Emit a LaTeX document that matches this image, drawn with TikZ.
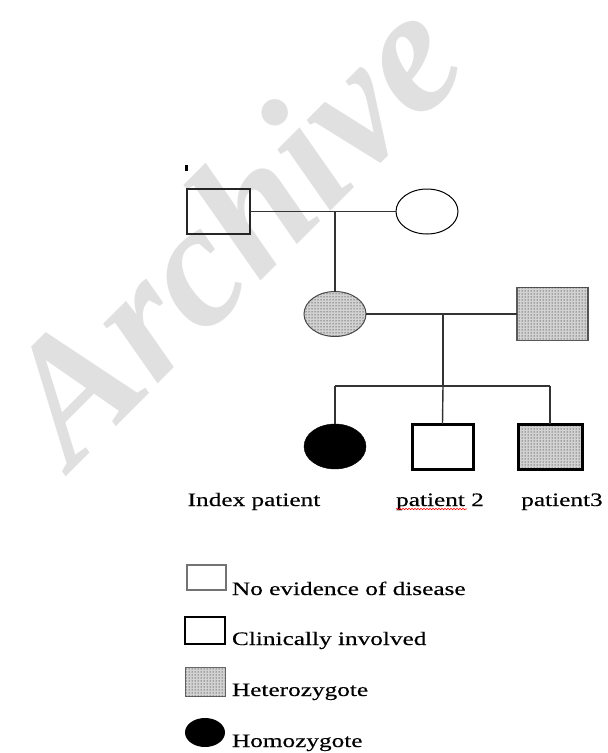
\documentclass[tikz,border=0pt]{standalone}
\usepackage{fontspec}
\setmainfont{Liberation Serif}
\newfontfamily\labelfont[FakeStretch=1.33,FakeBold=0.4]{Liberation Serif}
\usepackage{tikz}
\usetikzlibrary{shapes.geometric,patterns,decorations.pathmorphing}
\tikzset{
  every node/.style={outer sep=0pt,inner sep=0pt},
  conn/.style={draw=black!80,line width=1.4pt}
}
\tikzset{male/.style={
    draw,rectangle,
    minimum width=#1,
    minimum height=45pt
  },
  male/.default=63pt}
\tikzset{female/.style={
    draw,ellipse,
    minimum width=62pt,
    minimum height=45pt
  }}
\tikzset{hetero/.style={fill=gray!35,postaction={pattern=dots,pattern color=black}}}
\tikzset{caption/.style={font=\labelfont\fontsize{19}{22}\selectfont,anchor=base}}
\tikzset{keytext/.style={caption,anchor=base west}}

\begin{document}
\begin{tikzpicture}[x=1pt,y=-1pt]
  \useasboundingbox (0,0) rectangle (608,753);

  % watermark
  \node (mark) [anchor=base west,rotate=45,text=black!12,
    font=\fontsize{176}{176}\selectfont\bfseries\itshape] at (72,470) {Archive};

  \fill (185,165) rectangle (188,171);

  % first generation
  \node (Father) [male,line width=2.5pt,draw=black!85] at (218.5,211.5) {};
  \node (Mother) [female,line width=1pt] at (427,211.5) {};
  % second generation
  \node (Daughter) [female,line width=1pt,draw=black!70,hetero] at (335,314) {};
  \node (Husband)  [male=71pt,minimum height=53pt,line width=1.5pt,draw=black!65,hetero] at (552.5,314) {};
  % third generation
  \node (Index) [female,fill=black,draw=black] at (335,446.5) {};
  \node (Pat2)  [male=61pt,line width=3pt] at (442.5,446.5) {};
  \node (Pat3)  [male=64pt,line width=3pt,hetero] at (550,446.5) {};

  \coordinate (M1)  at (Daughter.north |- Father.east);
  \coordinate (M2)  at (443,314);
  \coordinate (Sib) at (443,386);

  \draw [conn] (Father.east) -- (Mother.west);
  \draw [conn] (M1) -- (Daughter.north);
  \draw [conn] (Daughter.east) -- (Husband.west);
  \draw [conn] (M2) -- (Sib);
  \draw [conn] (Index.north |- Sib) -- (Pat3.north |- Sib);
  \draw [conn] (Index.north |- Sib) -- (Index.north);
  \draw [conn] (Sib) -- (Pat2.north);
  \draw [conn] (Pat3.north |- Sib) -- (Pat3.north);

  \node (IndexLab) [caption] at (254,506) {Index patient};
  \node (Pat2Lab)  [caption] at (440,506) {patient 2};
  \node (Pat3Lab)  [caption] at (562,506) {patient3};
  \draw [red,line width=0.6pt,decorate,decoration={snake,segment length=3pt,amplitude=0.7pt}]
    ([yshift=-3pt] Pat2Lab.base west) -- ([xshift=-17pt,yshift=-3pt] Pat2Lab.base east);

  % key
  \node (KeyNone)   [draw=black!55,line width=1.8pt,minimum width=39pt,minimum height=25pt] at (206.5,577.5) {};
  \node (KeyClin)   [draw,line width=2.5pt,minimum width=40pt,minimum height=27pt] at (205,630.5) {};
  \node (KeyHet)    [draw=black!60,line width=1pt,minimum width=40pt,minimum height=29pt,hetero] at (205,681.5) {};
  \node (KeyHom)    [ellipse,fill=black,minimum width=40pt,minimum height=29pt] at (205,732.5) {};

  \node (KeyNoneLab) [keytext] at (232,595) {No evidence of disease};
  \node (KeyClinLab) [keytext] at (232,645) {Clinically involved};
  \node (KeyHetLab)  [keytext] at (232,696) {Heterozygote};
  \node (KeyHomLab)  [keytext] at (232,747) {Homozygote};
\end{tikzpicture}
\end{document}
